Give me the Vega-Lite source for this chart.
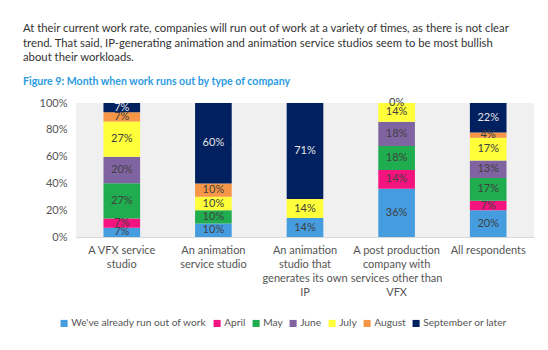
{
  "$schema": "https://vega.github.io/schema/vega-lite/v6.json",
  "width": 458,
  "height": 134,
  "padding": {"left": 23, "top": 23, "right": 12, "bottom": 5},
  "background": "white",
  "title": {
    "text": ["At their current work rate, companies will run out of work at a variety of times, as there is not clear", "trend. That said, IP-generating animation and animation service studios seem to be most bullish", "about their workloads."],
    "subtitle": "Figure 9: Month when work runs out by type of company",
    "anchor": "start",
    "frame": "bounds",
    "font": "Lato",
    "fontSize": 11.3,
    "fontWeight": "normal",
    "color": "#333333",
    "lineHeight": 14.5,
    "subtitleFont": "Lato",
    "subtitleFontSize": 10.6,
    "subtitleFontWeight": "bold",
    "subtitleColor": "#2a9be0",
    "subtitlePadding": 14,
    "offset": 9
  },
  "data": {
    "values": [
      {"company": "A VFX service studio", "month": "We've already run out of work", "k": 1, "value": 7},
      {"company": "A VFX service studio", "month": "April", "k": 2, "value": 7},
      {"company": "A VFX service studio", "month": "May", "k": 3, "value": 27},
      {"company": "A VFX service studio", "month": "June", "k": 4, "value": 20},
      {"company": "A VFX service studio", "month": "July", "k": 5, "value": 27},
      {"company": "A VFX service studio", "month": "August", "k": 6, "value": 7},
      {"company": "A VFX service studio", "month": "September or later", "k": 7, "value": 7},
      {"company": "An animation service studio", "month": "We've already run out of work", "k": 1, "value": 10},
      {"company": "An animation service studio", "month": "May", "k": 3, "value": 10},
      {"company": "An animation service studio", "month": "July", "k": 5, "value": 10},
      {"company": "An animation service studio", "month": "August", "k": 6, "value": 10},
      {"company": "An animation service studio", "month": "September or later", "k": 7, "value": 60},
      {"company": "An animation studio that generates its own IP", "month": "We've already run out of work", "k": 1, "value": 14},
      {"company": "An animation studio that generates its own IP", "month": "July", "k": 5, "value": 14},
      {"company": "An animation studio that generates its own IP", "month": "September or later", "k": 7, "value": 71},
      {"company": "A post production company with services other than VFX", "month": "We've already run out of work", "k": 1, "value": 36},
      {"company": "A post production company with services other than VFX", "month": "April", "k": 2, "value": 14},
      {"company": "A post production company with services other than VFX", "month": "May", "k": 3, "value": 18},
      {"company": "A post production company with services other than VFX", "month": "June", "k": 4, "value": 18},
      {"company": "A post production company with services other than VFX", "month": "July", "k": 5, "value": 14},
      {"company": "A post production company with services other than VFX", "month": "August", "k": 6, "value": 0},
      {"company": "All respondents", "month": "We've already run out of work", "k": 1, "value": 20},
      {"company": "All respondents", "month": "April", "k": 2, "value": 7},
      {"company": "All respondents", "month": "May", "k": 3, "value": 17},
      {"company": "All respondents", "month": "June", "k": 4, "value": 13},
      {"company": "All respondents", "month": "July", "k": 5, "value": 17},
      {"company": "All respondents", "month": "August", "k": 6, "value": 4},
      {"company": "All respondents", "month": "September or later", "k": 7, "value": 22}
    ]
  },
  "transform": [
    {"stack": "value", "groupby": ["company"], "sort": [{"field": "k", "order": "ascending"}], "offset": "normalize", "as": ["y0", "y1"]},
    {"calculate": "(datum.y0 + datum.y1) / 2", "as": "ymid"},
    {"calculate": "datum.value + '%'", "as": "label"}
  ],
  "encoding": {
    "x": {
      "field": "company",
      "type": "nominal",
      "sort": null,
      "scale": {"paddingInner": 0.6, "paddingOuter": 0.3},
      "axis": {
        "title": null,
        "labelAngle": 0,
        "ticks": false,
        "domain": true,
        "domainColor": "#d9d9d9",
        "labelPadding": 7,
        "labelFont": "Lato",
        "labelFontSize": 11,
        "labelColor": "#555555",
        "labelLineHeight": 14,
        "labelBaseline": "top",
        "labelLimit": 0,
        "labelOverlap": false,
        "labelExpr": "datum.value == 'A VFX service studio' ? ['A VFX service', 'studio'] : datum.value == 'An animation service studio' ? ['An animation', 'service studio'] : datum.value == 'An animation studio that generates its own IP' ? ['An animation', 'studio that', 'generates its own', 'IP'] : datum.value == 'A post production company with services other than VFX' ? ['A post production', 'company with', 'services other than', 'VFX'] : datum.value"
      }
    }
  },
  "layer": [
    {
      "mark": {"type": "bar"},
      "encoding": {
        "y": {
          "field": "y0",
          "type": "quantitative",
          "scale": {"domain": [0, 1], "nice": false}
        },
        "y2": {"field": "y1"},
        "color": {
          "field": "month",
          "type": "nominal",
          "scale": {
            "domain": ["We've already run out of work", "April", "May", "June", "July", "August", "September or later"],
            "range": ["#459de0", "#f5147f", "#1fad4f", "#8064a2", "#ffff3a", "#f79646", "#002060"]
          },
          "legend": {
            "title": null,
            "orient": "none",
            "legendX": -17,
            "legendY": 215,
            "direction": "horizontal",
            "symbolType": "square",
            "symbolSize": 50,
            "symbolStrokeWidth": 0,
            "labelFont": "Lato",
            "labelFontSize": 10.2,
            "labelColor": "#555555",
            "columnPadding": 5,
            "symbolOffset": 0,
            "labelOffset": 2
          }
        }
      }
    },
    {
      "mark": {"type": "text", "font": "Lato", "fontSize": 11, "baseline": "middle"},
      "encoding": {
        "y": {"field": "ymid", "type": "quantitative"},
        "text": {"field": "label", "type": "nominal"},
        "color": {
          "condition": {"test": "datum.month == 'September or later'", "value": "#e6e6e6"},
          "value": "#404040"
        }
      }
    }
  ],
  "config": {
    "view": {"fill": "#f0f0f0", "stroke": null},
    "axisY": {
      "title": null,
      "format": ".0%",
      "values": [0, 0.2, 0.4, 0.6, 0.8, 1],
      "grid": false,
      "ticks": false,
      "domain": false,
      "labelPadding": 9,
      "labelFont": "Lato",
      "labelFontSize": 11,
      "labelColor": "#555555",
      "labelOverlap": false,
      "labelFlush": false,
      "minExtent": 53,
      "maxExtent": 53
    }
  }
}
